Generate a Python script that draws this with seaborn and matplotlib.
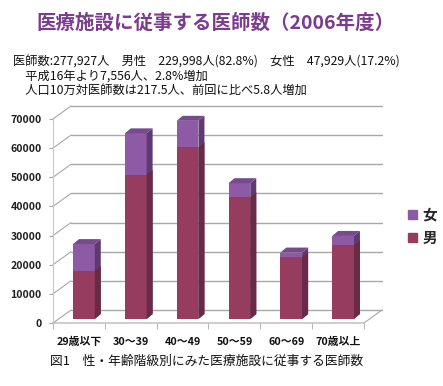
import numpy as np
import pandas as pd
import matplotlib
matplotlib.use('Agg')
import matplotlib.pyplot as plt
import matplotlib.transforms as mtransforms
from matplotlib.patches import Polygon, Patch
import seaborn as sns

# ── data ──────────────────────────────────────────────────────
ages = ['29歳以下', '30～39', '40～49', '50～59', '60～69', '70歳以上']
male = [16500, 49500, 58900, 41800, 21200, 25300]
female = [9200, 14200, 9100, 4800, 1600, 3200]
yticks = [0, 10000, 20000, 30000, 40000, 50000, 60000, 70000]

title = '医療施設に従事する医師数（2006年度）'
info = ['医師数:277,927人　男性　229,998人(82.8%)　女性　47,929人(17.2%)',
        '　平成16年より7,556人、2.8%増加',
        '　人口10万対医師数は217.5人、前回に比べ5.8人増加']
caption = '図1　性・年齢階級別にみた医療施設に従事する医師数'

df = pd.DataFrame({'age': ages, 'male': male, 'female': female})
df['total'] = df['male'] + df['female']

male_c, male_side = '#963c5f', '#6a2944'
fem_c, fem_side, fem_top = '#8e5aa6', '#5f3a72', '#764a8c'
grid_c = '#a8a8a8'

sns.set_style('white')
plt.rcParams['font.family'] = ['Noto Sans CJK JP', 'DejaVu Sans']

fig = plt.figure(figsize=(4.43, 3.86), dpi=100)
ax = fig.add_axes([0.1196, 0.1632, 0.702, 0.5285])
ax.set_xlim(-0.5, 5.5)
ax.set_ylim(0, 70000)
for s in ax.spines.values():
    s.set_visible(False)

# pixel -> data conversion for the fake 3D depth
px_x = ax.bbox.width / 6.0
px_y = ax.bbox.height / 70000.0
wall_dx, wall_dy = 18 / px_x, 13 / px_y     # back wall
bar_dx, bar_dy = 6 / px_x, 5 / px_y         # bar depth

# back wall gridlines + left wall diagonals
for y in yticks:
    ax.plot([-0.5 + wall_dx, 5.5 + wall_dx], [y + wall_dy, y + wall_dy],
            color=grid_c, lw=1.0, zorder=1, clip_on=False)
    ax.plot([-0.5, -0.5 + wall_dx], [y, y + wall_dy], color=grid_c, lw=0.8,
            zorder=1, clip_on=False)
# floor
ax.plot([-0.5, 5.5, 5.5 + wall_dx], [0, 0, wall_dy], color=grid_c, lw=0.8,
        zorder=1, clip_on=False)
ax.plot([-0.5, -0.5], [0, 70000], color='#c8c8c8', lw=0.8, zorder=1, clip_on=False)

# stacked bars: total (female on top) then male over it
sns.barplot(data=df, x='age', y='total', color=fem_c, width=0.42,
            saturation=1, ax=ax, zorder=3)
sns.barplot(data=df, x='age', y='male', color=male_c, width=0.42,
            saturation=1, ax=ax, zorder=4)

shift = ax.transData + mtransforms.ScaledTranslation(5 / 100, 4 / 100, fig.dpi_scale_trans)
n = len(ages)
patches = list(ax.patches)
tot_bars, male_bars = patches[:n], patches[n:2 * n]
for p in patches:
    p.set_transform(shift)
    p.set_linewidth(0)
    p.set_clip_on(False)

for p in tot_bars:
    x0, w, y1 = p.get_x(), p.get_width(), p.get_height()
    ax.add_patch(Polygon([(x0 + w, 0), (x0 + w + bar_dx, bar_dy),
                          (x0 + w + bar_dx, y1 + bar_dy), (x0 + w, y1)],
                         closed=True, fc=fem_side, lw=0, transform=shift,
                         zorder=3, clip_on=False))
    ax.add_patch(Polygon([(x0, y1), (x0 + w, y1), (x0 + w + bar_dx, y1 + bar_dy),
                          (x0 + bar_dx, y1 + bar_dy)],
                         closed=True, fc=fem_top, lw=0, transform=shift,
                         zorder=3, clip_on=False))
for p in male_bars:
    x0, w, y1 = p.get_x(), p.get_width(), p.get_height()
    ax.add_patch(Polygon([(x0 + w, 0), (x0 + w + bar_dx, bar_dy),
                          (x0 + w + bar_dx, y1 + bar_dy), (x0 + w, y1)],
                         closed=True, fc=male_side, lw=0, transform=shift,
                         zorder=4, clip_on=False))

# axes ticks
ax.set_yticks(yticks)
ax.set_yticklabels([str(v) for v in yticks], fontsize=7.6, fontweight='bold', color='#222222')
ax.tick_params(axis='y', length=3, color=grid_c, pad=5, left=True)
ax.set_xticks(range(n))
ax.set_xticklabels(ages, fontsize=7.8, fontweight='bold', color='#111111')
ax.set_xticks(np.arange(-0.5, 6, 1), minor=True)
ax.tick_params(axis='x', which='major', length=0, pad=10)
ax.tick_params(axis='x', which='minor', length=4, color=grid_c, bottom=True)
ax.set_xlabel('')
ax.set_ylabel('')
ax.grid(False)

# legend
fig.legend(handles=[Patch(color=fem_c, label='女'), Patch(color=male_c, label='男')],
           loc='center left', bbox_to_anchor=(395 / 443, 1 - 226 / 386),
           frameon=False, handlelength=0.6, handleheight=0.6, handletextpad=0.4,
           labelspacing=0.5, prop={'size': 10.5, 'weight': 'bold'})

# texts
fig.text(215 / 443, 1 - 23 / 386, title, ha='center', va='center',
         fontsize=14, fontweight='bold', color='#7b3b8e')
for i, line in enumerate(info):
    fig.text(13 / 443, 1 - (62 + 14 * i) / 386, line, ha='left', va='center',
             fontsize=8.8, color='#111111')
fig.text(207 / 443, 1 - 361 / 386, caption, ha='center', va='center',
         fontsize=9.2, color='#111111')

fig.savefig('out.png', dpi=100)
